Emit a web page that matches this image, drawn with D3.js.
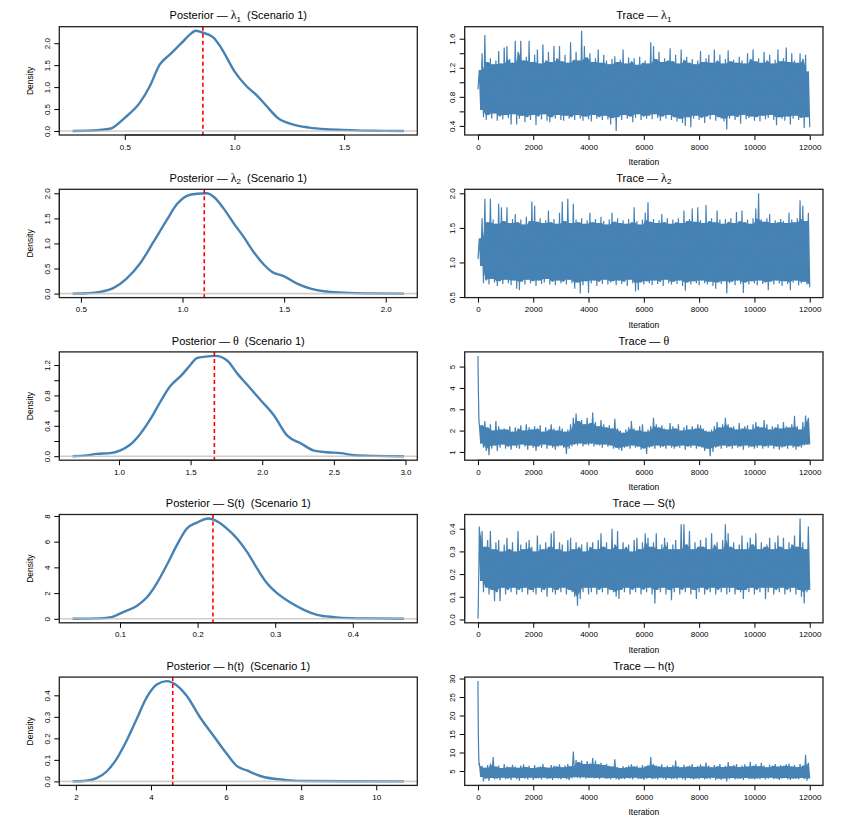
<!DOCTYPE html>
<html>
<head>
<meta charset="utf-8">
<script src="https://cdn.jsdelivr.net/npm/d3@7"></script>
<style>
  body { margin: 0; background: #fff; }
  svg text { font-family: "Liberation Sans", Arial, Helvetica, sans-serif; fill: #000; }
</style>
</head>
<body>
<svg id="fig" width="848" height="820"></svg>
<script>
/* ---------- posterior densities ---------- */
var lambda1_x    = [0.262,0.35,0.432,0.5,0.568,0.614,0.659,0.705,0.758,0.795,0.823,0.849,0.902,0.94,1.0,1.053,1.106,1.144,1.197,1.265,1.341,1.417,1.53,1.62,1.773];
var lambda1_dens = [0,0.01,0.05,0.30,0.64,1.02,1.51,1.74,2.0,2.19,2.285,2.25,2.14,1.89,1.36,1.03,0.79,0.58,0.30,0.15,0.077,0.04,0.02,0.005,0];
var lambda1_mark = 0.856;

var lambda2_x    = [0.459,0.53,0.594,0.659,0.725,0.791,0.857,0.923,0.972,1.022,1.071,1.120,1.153,1.202,1.252,1.301,1.350,1.400,1.441,1.498,1.564,1.630,1.695,1.794,1.909,2.090];
var lambda2_dens = [0,0.008,0.033,0.11,0.30,0.60,1.03,1.47,1.78,1.95,1.99,2.0,1.93,1.70,1.40,1.13,0.83,0.58,0.43,0.35,0.20,0.10,0.047,0.02,0.005,0];
var lambda2_mark = 1.107;

var theta_x    = [0.676,0.774,0.844,0.937,1.007,1.077,1.147,1.217,1.287,1.357,1.439,1.498,1.544,1.603,1.673,1.755,1.825,1.895,1.988,2.081,2.175,2.268,2.362,2.455,2.549,2.642,2.782,2.99];
var theta_dens = [0,0.01,0.03,0.04,0.074,0.15,0.29,0.48,0.71,0.92,1.07,1.20,1.29,1.31,1.32,1.26,1.09,0.94,0.74,0.54,0.27,0.17,0.074,0.052,0.04,0.013,0.004,0];
var theta_mark = 1.666;

var surv_x    = [0.0389,0.0742,0.0892,0.104,0.1216,0.1345,0.1474,0.1603,0.1733,0.1862,0.1991,0.2141,0.2227,0.2378,0.2507,0.2637,0.2766,0.2895,0.3024,0.3196,0.3368,0.354,0.3756,0.3971,0.4187,0.466];
var surv_dens = [0,0.03,0.13,0.52,1.0,1.65,2.76,4.18,5.73,7.02,7.48,7.8,7.66,7.02,6.25,5.21,3.92,2.76,1.99,1.26,0.70,0.31,0.13,0.05,0.03,0];
var surv_mark = 0.2198;

var haz_x    = [1.912,2.285,2.552,2.82,3.086,3.353,3.62,3.887,4.154,4.42,4.688,4.955,5.31,5.665,6.02,6.29,6.557,6.912,7.27,7.62,8.16,9.2,10.74];
var haz_dens = [0,0.003,0.015,0.046,0.105,0.19,0.29,0.39,0.45,0.466,0.446,0.397,0.297,0.212,0.128,0.071,0.051,0.025,0.012,0.006,0.0015,0.0003,0];
var haz_mark = 4.58;

/* ---------- MCMC traces: burn-in points, then max / min in each block of 100 iterations ---------- */
var traceBin = 100;
var traceTicks  = [0,2000,4000,6000,8000,10000,12000];
var traceLabels = ["0","2000","4000","6000","8000","10000","12000"];

var lambda1_start = [[1,0.9]];
var lambda1_hi = [
  1.17,1.40,1.65,1.28,1.33,1.25,1.30,1.43,1.26,1.48,
  1.50,1.32,1.27,1.57,1.42,1.57,1.30,1.35,1.57,1.28,
  1.38,1.45,1.26,1.52,1.30,1.42,1.28,1.50,1.33,1.50,
  1.29,1.38,1.27,1.55,1.31,1.42,1.30,1.71,1.50,1.34,
  1.40,1.28,1.33,1.45,1.27,1.38,1.30,1.25,1.32,1.36,
  1.28,1.31,1.45,1.26,1.34,1.29,1.33,1.24,1.35,1.27,
  1.30,1.26,1.55,1.50,1.32,1.42,1.28,1.33,1.30,1.47,
  1.29,1.38,1.26,1.45,1.31,1.35,1.27,1.32,1.25,1.30,
  1.43,1.28,1.33,1.38,1.27,1.45,1.30,1.38,1.26,1.32,
  1.44,1.29,1.31,1.27,1.35,1.30,1.26,1.40,1.32,1.45,
  1.29,1.33,1.27,1.42,1.30,1.38,1.26,1.31,1.45,1.29,
  1.33,1.48,1.28,1.40,1.30,1.27,1.40,1.32,1.38,1.15];
var lambda1_lo = [
  0.62,0.52,0.48,0.55,0.50,0.57,0.47,0.53,0.49,0.55,
  0.51,0.42,0.56,0.42,0.50,0.54,0.45,0.52,0.48,0.55,
  0.41,0.53,0.49,0.56,0.47,0.45,0.52,0.50,0.55,0.48,
  0.47,0.54,0.50,0.52,0.48,0.55,0.50,0.47,0.53,0.49,
  0.46,0.55,0.50,0.52,0.48,0.54,0.49,0.42,0.51,0.33,
  0.52,0.48,0.55,0.50,0.53,0.45,0.51,0.56,0.48,0.53,
  0.50,0.54,0.49,0.56,0.51,0.47,0.53,0.50,0.55,0.48,
  0.52,0.46,0.50,0.44,0.40,0.52,0.38,0.50,0.54,0.48,
  0.51,0.44,0.53,0.49,0.55,0.47,0.52,0.50,0.46,0.35,
  0.50,0.54,0.48,0.52,0.43,0.55,0.49,0.51,0.53,0.47,
  0.52,0.46,0.54,0.49,0.51,0.55,0.48,0.41,0.52,0.50,
  0.47,0.53,0.42,0.50,0.54,0.48,0.51,0.37,0.52,0.38];

var lambda2_start = [[1,1.05]];
var lambda2_hi = [
  1.35,1.64,1.92,1.58,1.92,1.62,1.56,1.85,1.80,1.60,
  1.80,1.57,1.63,1.70,1.58,1.62,1.55,1.66,1.60,1.88,
  1.82,1.59,1.64,1.57,1.61,1.75,1.58,1.63,1.56,1.72,
  1.88,1.60,1.92,1.57,1.85,1.62,1.58,1.64,1.56,1.61,
  1.72,1.58,1.63,1.57,1.66,1.60,1.55,1.62,1.72,1.59,
  1.64,1.57,1.61,1.56,1.63,1.58,1.80,1.60,1.55,1.62,
  1.72,1.87,1.59,1.63,1.57,1.61,1.70,1.58,1.64,1.56,
  1.62,1.58,1.64,1.57,1.75,1.60,1.63,1.78,1.59,1.80,
  1.61,1.57,1.83,1.60,1.64,1.58,1.75,1.62,1.56,1.63,
  1.59,1.64,1.57,1.73,1.60,1.75,1.58,1.62,1.56,1.64,
  1.78,2.00,1.62,1.59,1.64,1.70,1.57,1.61,1.58,1.63,
  1.60,1.57,1.72,1.62,1.58,1.64,1.90,1.82,1.60,1.72];
var lambda2_lo = [
  0.95,0.70,0.74,0.68,0.76,0.71,0.66,0.73,0.69,0.75,
  0.70,0.67,0.74,0.62,0.60,0.72,0.68,0.75,0.70,0.73,
  0.66,0.74,0.69,0.71,0.76,0.68,0.72,0.67,0.74,0.70,
  0.72,0.68,0.75,0.70,0.62,0.71,0.55,0.67,0.73,0.56,
  0.70,0.74,0.66,0.72,0.69,0.75,0.68,0.71,0.73,0.67,
  0.74,0.69,0.72,0.66,0.75,0.70,0.58,0.60,0.71,0.68,
  0.73,0.70,0.67,0.74,0.69,0.72,0.66,0.75,0.70,0.68,
  0.72,0.69,0.74,0.66,0.59,0.71,0.68,0.73,0.70,0.67,
  0.74,0.70,0.68,0.72,0.66,0.62,0.71,0.69,0.73,0.55,
  0.70,0.72,0.67,0.74,0.69,0.56,0.71,0.68,0.73,0.70,
  0.67,0.74,0.69,0.71,0.60,0.72,0.68,0.74,0.70,0.66,
  0.73,0.69,0.60,0.71,0.74,0.67,0.70,0.72,0.68,0.64];

var theta_start = [[1,5.5],[10,4.4],[20,3.6],[32,2.7],[45,2.3]];
var theta_hi = [
  2.30,2.25,2.45,2.15,2.30,2.00,2.45,2.20,2.05,2.10,
  2.05,2.20,1.95,2.15,2.10,2.25,2.00,2.30,2.15,2.05,
  2.20,2.10,2.25,1.95,2.15,2.05,2.30,2.10,2.00,2.20,
  2.10,1.95,2.05,2.30,2.60,2.80,2.45,2.50,2.30,2.60,
  2.35,2.85,2.40,2.20,2.50,2.30,2.15,2.25,2.10,2.55,
  2.10,2.00,1.90,2.05,2.15,2.45,2.10,2.00,2.20,2.30,
  1.95,2.05,2.20,2.60,2.30,2.15,2.25,2.10,2.05,2.35,
  2.20,2.10,2.30,2.00,2.15,2.25,2.05,2.20,2.10,2.30,
  2.25,2.10,2.00,1.95,2.05,2.20,2.40,2.15,2.30,2.60,
  2.30,2.15,2.20,2.05,2.35,2.10,2.20,2.25,2.05,2.30,
  2.40,2.20,2.15,2.50,2.30,2.05,2.20,2.15,2.30,2.10,
  2.40,2.20,2.15,2.30,2.70,2.20,2.05,2.40,2.70,2.60];
var theta_lo = [
  1.40,1.20,1.05,0.85,1.15,1.30,1.05,1.20,1.35,1.15,
  1.25,1.10,1.30,1.20,1.15,1.35,1.25,1.10,1.30,1.20,
  1.05,1.25,1.20,1.35,1.15,1.30,1.20,1.10,1.25,1.30,
  1.20,0.90,1.15,1.25,1.35,1.30,1.40,1.25,1.35,1.30,
  1.40,1.25,1.35,1.30,1.20,1.35,1.25,1.30,1.15,1.20,
  1.10,1.05,1.20,1.25,1.15,1.30,1.20,1.25,1.10,1.15,
  0.90,1.20,1.25,1.15,1.30,1.20,1.25,1.15,1.30,1.20,
  1.15,1.25,1.20,1.30,1.10,1.25,1.20,1.30,1.15,1.25,
  1.20,1.05,1.15,0.80,1.00,1.20,1.25,1.15,1.30,1.20,
  1.25,1.15,1.30,1.20,1.25,1.10,1.30,1.20,1.25,1.15,
  1.20,1.30,1.15,1.25,1.20,1.30,1.15,1.25,1.10,1.20,
  1.25,1.15,1.30,1.20,1.10,1.25,1.20,1.30,1.35,1.35];

var surv_start = [[1,0.003],[10,0.04],[22,0.15],[35,0.24]];
var surv_hi = [
  0.41,0.39,0.32,0.35,0.39,0.31,0.34,0.35,0.30,0.33,
  0.36,0.31,0.34,0.30,0.39,0.33,0.31,0.34,0.35,0.32,
  0.30,0.37,0.33,0.31,0.34,0.32,0.38,0.39,0.31,0.34,
  0.33,0.30,0.35,0.36,0.31,0.34,0.32,0.33,0.30,0.34,
  0.32,0.34,0.31,0.35,0.38,0.32,0.34,0.31,0.40,0.33,
  0.39,0.31,0.34,0.32,0.33,0.30,0.35,0.36,0.31,0.34,
  0.38,0.36,0.32,0.34,0.38,0.31,0.33,0.36,0.34,0.31,
  0.33,0.35,0.31,0.42,0.42,0.33,0.39,0.31,0.34,0.32,
  0.35,0.32,0.36,0.31,0.38,0.33,0.34,0.31,0.35,0.42,
  0.38,0.32,0.34,0.31,0.33,0.37,0.31,0.34,0.36,0.33,
  0.38,0.31,0.34,0.32,0.33,0.36,0.31,0.34,0.37,0.32,
  0.36,0.31,0.34,0.33,0.37,0.32,0.445,0.34,0.31,0.41];
var surv_lo = [
  0.17,0.12,0.14,0.11,0.13,0.08,0.12,0.08,0.14,0.11,
  0.13,0.12,0.14,0.11,0.13,0.12,0.14,0.11,0.13,0.12,
  0.11,0.14,0.12,0.13,0.10,0.14,0.12,0.11,0.13,0.12,
  0.14,0.11,0.13,0.12,0.10,0.06,0.09,0.12,0.14,0.11,
  0.12,0.14,0.11,0.13,0.12,0.14,0.11,0.13,0.12,0.10,
  0.09,0.13,0.12,0.14,0.11,0.13,0.12,0.14,0.11,0.13,
  0.12,0.14,0.11,0.07,0.13,0.12,0.14,0.11,0.13,0.085,
  0.12,0.14,0.11,0.13,0.12,0.14,0.11,0.13,0.09,0.12,
  0.14,0.11,0.13,0.12,0.14,0.11,0.13,0.12,0.14,0.11,
  0.12,0.14,0.11,0.13,0.12,0.09,0.13,0.12,0.14,0.11,
  0.13,0.12,0.14,0.09,0.12,0.14,0.11,0.13,0.12,0.14,
  0.11,0.13,0.12,0.14,0.11,0.13,0.10,0.07,0.12,0.13];

var haz_start = [[1,29.3],[6,22],[14,15],[25,10],[40,6.5]];
var haz_hi = [
  7.2,6.4,5.9,6.6,7.0,8.8,6.2,6.5,5.8,6.9,
  6.3,6.0,6.7,6.2,5.9,6.5,6.8,6.1,6.4,5.8,
  6.6,6.0,6.3,6.9,6.1,5.9,6.6,6.4,6.2,6.8,
  6.0,6.5,6.9,6.3,10.3,8.0,7.4,7.8,6.9,7.6,
  7.0,8.5,7.8,6.8,7.2,6.6,6.9,6.4,6.2,8.2,
  6.1,5.8,6.3,6.0,6.5,6.8,6.2,6.4,5.9,6.6,
  6.3,6.7,8.8,6.9,6.5,6.2,6.8,6.0,6.4,6.1,
  6.6,7.8,6.3,6.0,6.7,6.2,6.5,6.9,6.1,6.4,
  6.8,6.2,7.3,6.5,6.0,6.6,6.3,6.9,6.1,6.4,
  7.4,6.3,6.6,6.9,6.1,6.5,6.8,6.2,7.5,6.4,
  6.9,6.3,7.2,6.5,6.0,6.7,6.4,6.9,6.2,6.6,
  6.4,6.8,7.0,6.2,6.6,6.1,6.9,6.5,9.4,7.2];
var haz_lo = [
  3.4,2.2,2.9,2.3,3.1,2.7,3.0,2.5,3.2,2.8,
  3.0,2.6,3.2,2.8,2.4,3.1,2.9,2.7,3.2,2.6,
  2.9,3.1,2.7,3.2,2.8,3.0,2.6,3.1,2.9,2.7,
  3.1,2.8,2.5,3.0,3.3,3.2,3.0,3.3,2.9,3.1,
  3.2,3.0,3.1,2.8,3.2,2.9,3.0,2.7,3.1,2.8,
  2.6,3.0,2.8,3.1,2.9,2.7,3.2,2.8,3.0,2.6,
  2.9,3.1,2.8,3.0,2.7,3.2,2.9,2.6,3.1,2.8,
  3.0,2.7,3.2,2.8,2.5,3.1,2.9,2.7,3.0,2.8,
  3.1,2.7,3.0,2.8,3.2,2.5,2.9,2.6,3.0,2.2,
  2.8,3.1,2.7,3.0,2.9,2.6,3.1,2.8,3.0,2.7,
  3.0,2.8,3.1,2.7,2.9,3.2,2.8,3.0,2.6,2.9,
  3.1,2.8,2.6,3.0,2.9,2.7,3.1,2.8,2.4,3.0];

/* ---------- ticks and labels ---------- */
var lambda1_xticks = [0.5,1.0,1.5],            lambda1_xlabels = ["0.5","1.0","1.5"];
var lambda1_yticks = [0,0.5,1.0,1.5,2.0],      lambda1_ylabels = ["0.0","0.5","1.0","1.5","2.0"];
var lambda1_tyticks = [0.4,0.6,0.8,1.0,1.2,1.4,1.6], lambda1_tylabels = ["0.4","","0.8","","1.2","","1.6"];

var lambda2_xticks = [0.5,1.0,1.5,2.0],        lambda2_xlabels = ["0.5","1.0","1.5","2.0"];
var lambda2_yticks = [0,0.5,1.0,1.5,2.0],      lambda2_ylabels = ["0.0","0.5","1.0","1.5","2.0"];
var lambda2_tyticks = [0.5,1.0,1.5,2.0],       lambda2_tylabels = ["0.5","1.0","1.5","2.0"];

var theta_xticks = [1.0,1.5,2.0,2.5,3.0],      theta_xlabels = ["1.0","1.5","2.0","2.5","3.0"];
var theta_yticks = [0,0.2,0.4,0.6,0.8,1.0,1.2], theta_ylabels = ["0.0","","0.4","","0.8","","1.2"];
var theta_tyticks = [1,2,3,4,5],               theta_tylabels = ["1","2","3","4","5"];

var surv_xticks = [0.1,0.2,0.3,0.4],           surv_xlabels = ["0.1","0.2","0.3","0.4"];
var surv_yticks = [0,2,4,6,8],                 surv_ylabels = ["0","2","4","6","8"];
var surv_tyticks = [0,0.1,0.2,0.3,0.4],        surv_tylabels = ["0.0","0.1","0.2","0.3","0.4"];

var haz_xticks = [2,4,6,8,10],                 haz_xlabels = ["2","4","6","8","10"];
var haz_yticks = [0,0.1,0.2,0.3,0.4],          haz_ylabels = ["0.0","0.1","0.2","0.3","0.4"];
var haz_tyticks = [5,10,15,20,25,30],          haz_tylabels = ["5","10","15","20","25","30"];

/* ---------- rows ---------- */
var rows = [
  {name:[{t:"λ",g:1},{t:"1",s:1}], dx:lambda1_x, dy:lambda1_dens, mark:lambda1_mark,
   xt:lambda1_xticks, xl:lambda1_xlabels, yt:lambda1_yticks, yl:lambda1_ylabels,
   start:lambda1_start, hi:lambda1_hi, lo:lambda1_lo, tyt:lambda1_tyticks, tyl:lambda1_tylabels},
  {name:[{t:"λ",g:1},{t:"2",s:1}], dx:lambda2_x, dy:lambda2_dens, mark:lambda2_mark,
   xt:lambda2_xticks, xl:lambda2_xlabels, yt:lambda2_yticks, yl:lambda2_ylabels,
   start:lambda2_start, hi:lambda2_hi, lo:lambda2_lo, tyt:lambda2_tyticks, tyl:lambda2_tylabels},
  {name:[{t:"θ",g:1}], dx:theta_x, dy:theta_dens, mark:theta_mark,
   xt:theta_xticks, xl:theta_xlabels, yt:theta_yticks, yl:theta_ylabels,
   start:theta_start, hi:theta_hi, lo:theta_lo, tyt:theta_tyticks, tyl:theta_tylabels},
  {name:[{t:"S(t)"}], dx:surv_x, dy:surv_dens, mark:surv_mark,
   xt:surv_xticks, xl:surv_xlabels, yt:surv_yticks, yl:surv_ylabels,
   start:surv_start, hi:surv_hi, lo:surv_lo, tyt:surv_tyticks, tyl:surv_tylabels},
  {name:[{t:"h(t)"}], dx:haz_x, dy:haz_dens, mark:haz_mark,
   xt:haz_xticks, xl:haz_xlabels, yt:haz_yticks, yl:haz_ylabels,
   start:haz_start, hi:haz_hi, lo:haz_lo, tyt:haz_tyticks, tyl:haz_tylabels}
];

var BLUE = "#4682b4";
var svg = d3.select("#fig");
var top0 = 26.7, pitch = 162.6, boxH = 108.3;
var leftX = [59.3, 417.3], rightX = [464.7, 823];

// R pads the data range by 4% on each side
function pad(lo, hi){ var d = (hi - lo) * 0.04; return [lo - d, hi + d]; }

function title(g, w, pre, name, tail){
  var t = g.append("text").attr("x", w/2).attr("y", -7.4).attr("text-anchor","middle")
      .attr("font-size", 11).style("white-space","pre");
  t.append("tspan").text(pre);
  name.forEach(function(p){
    var s = t.append("tspan").text(p.t);
    if(p.g) s.attr("font-family", "'Liberation Serif','DejaVu Serif',serif").attr("font-size", 12);
    if(p.s) s.attr("font-size", 8).attr("dy", 2.5);
  });
  var tl = t.append("tspan").text(tail);
  if(name[name.length-1].s) tl.attr("dy", -2.5);
}

function axes(g, x, y, h, xt, xl, yt, yl){
  var xa = g.append("g").attr("transform","translate(0,"+h+")")
    .call(d3.axisBottom(x).tickValues(xt).tickSize(5).tickSizeOuter(0)
      .tickFormat(function(d,i){ return xl[i]; }));
  xa.select(".domain").attr("d","M"+x(xt[0])+",0H"+x(xt[xt.length-1]));
  xa.selectAll("text").attr("y",14.6).attr("dy",0);
  var ya = g.append("g")
    .call(d3.axisLeft(y).tickValues(yt).tickSize(5).tickSizeOuter(0)
      .tickFormat(function(d,i){ return yl[i]; }));
  ya.select(".domain").attr("d","M0,"+y(yt[0])+"V"+y(yt[yt.length-1]));
  ya.selectAll("text").attr("x",0).attr("y",-9.8).attr("dy",0)
    .attr("transform","rotate(-90)").attr("text-anchor","middle");
  [xa, ya].forEach(function(a){
    a.attr("font-family", null).attr("font-size", 8).attr("color","#000");
    a.selectAll("line, path").attr("stroke-width", 1);
  });
}

function box(g, w, h){
  g.append("rect").attr("width", w).attr("height", h)
    .attr("fill","none").attr("stroke","#222").attr("stroke-width",1.3);
}

rows.forEach(function(r, i){
  var yTop = top0 + pitch*i;

  /* ---- posterior density ---- */
  var w = leftX[1] - leftX[0];
  var g = svg.append("g").attr("transform","translate("+leftX[0]+","+yTop+")");
  var x = d3.scaleLinear().domain(pad(d3.min(r.dx), d3.max(r.dx))).range([0, w]);
  var y = d3.scaleLinear().domain(pad(0, d3.max(r.dy))).range([boxH, 0]);
  var pts = r.dx.map(function(v,k){ return [v, r.dy[k]]; });

  g.append("path").datum(pts)
    .attr("d", d3.line().x(function(d){ return x(d[0]); }).y(function(d){ return y(d[1]); })
      .curve(d3.curveMonotoneX))
    .attr("fill","none").attr("stroke",BLUE).attr("stroke-width",2.4).attr("stroke-linejoin","round");
  g.append("line").attr("x1",0).attr("x2",w).attr("y1",y(0)).attr("y2",y(0))
    .attr("stroke","#bebebe").attr("stroke-width",1.6).attr("stroke-opacity",0.75);
  g.append("line").attr("x1",x(r.mark)).attr("x2",x(r.mark)).attr("y1",0).attr("y2",boxH)
    .attr("stroke","#ff0000").attr("stroke-width",1.6).attr("stroke-dasharray","4,3");

  axes(g, x, y, boxH, r.xt, r.xl, r.yt, r.yl);
  box(g, w, boxH);
  title(g, w, "Posterior — ", r.name, "  (Scenario 1)");
  g.append("text").attr("transform","translate(-26,"+(boxH/2)+") rotate(-90)")
    .attr("text-anchor","middle").attr("font-size",8.5).text("Density");

  /* ---- trace ---- */
  var tw = rightX[1] - rightX[0];
  var tg = svg.append("g").attr("transform","translate("+rightX[0]+","+yTop+")");
  var tpts = r.start.slice();
  r.hi.forEach(function(v,k){
    tpts.push([traceBin*k + 50, v]);
    tpts.push([traceBin*k + 100, r.lo[k]]);
  });
  var allV = tpts.map(function(d){ return d[1]; });
  var tx = d3.scaleLinear().domain(pad(1, 12000)).range([0, tw]);
  var ty = d3.scaleLinear().domain(pad(d3.min(allV), d3.max(allV))).range([boxH, 0]);

  // solid body of the band (no wider than neighbouring blocks), then the sampled path with its spikes
  var n = r.hi.length;
  function nb(arr, k, f){ return f(arr[Math.max(0,k-1)], arr[k], arr[Math.min(n-1,k+1)]); }
  tg.append("path").datum(d3.range(n))
    .attr("d", d3.area()
      .x(function(k){ return tx(traceBin*k + 75); })
      .y0(function(k){ return ty(nb(r.lo, k, Math.max)); })
      .y1(function(k){ return ty(nb(r.hi, k, Math.min)); }))
    .attr("fill", BLUE);
  tg.append("path").datum(tpts)
    .attr("d", d3.line().x(function(d){ return tx(d[0]); }).y(function(d){ return ty(d[1]); }))
    .attr("fill","none").attr("stroke",BLUE).attr("stroke-width",1.2).attr("stroke-linejoin","miter")
    .attr("stroke-miterlimit",2);

  axes(tg, tx, ty, boxH, traceTicks, traceLabels, r.tyt, r.tyl);
  box(tg, tw, boxH);
  title(tg, tw, "Trace — ", r.name, "");
  tg.append("text").attr("x", tw/2).attr("y", boxH + 30).attr("text-anchor","middle")
    .attr("font-size",8.5).text("Iteration");
});
</script>
</body>
</html>
